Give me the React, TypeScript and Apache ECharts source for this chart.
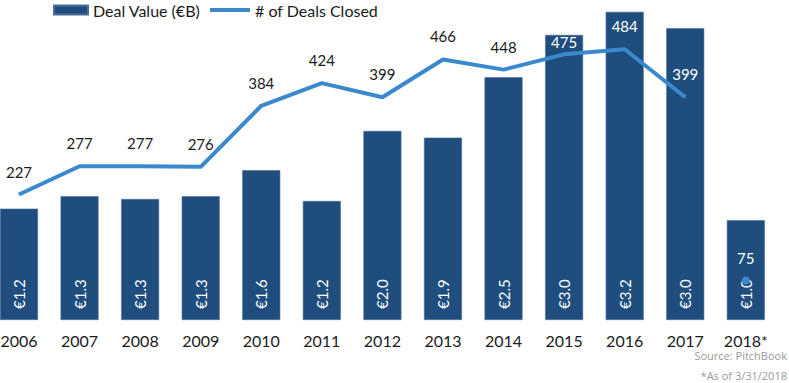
import React, { useEffect, useRef } from "react";
import * as echarts from "echarts";

const years = ["2006", "2007", "2008", "2009", "2010", "2011", "2012", "2013", "2014", "2015", "2016", "2017", "2018*"];
const dealValue = [1.16, 1.29, 1.26, 1.29, 1.56, 1.24, 1.97, 1.9, 2.53, 2.97, 3.21, 3.04, 1.04];
const dealsClosed = [227, 277, 277, 276, 384, 424, 399, 466, 448, 475, 484, 399, 75];

const BAR_COLOR = "#1F4E7E";
const LINE_COLOR = "#3A89CE";
const FONT = "Lato";

const BAR_MAX = 3.25;
const LINE_MIN = 5;
const LINE_MAX = 557;
const GRID_TOP = 8;
const GRID_BOTTOM = 63;
const GRID_H = 383 - GRID_TOP - GRID_BOTTOM;
const SHIFT = 12; // chart div is shifted left so the first bar touches the page edge
const LABEL_GAP = 15;
const LABEL_GAP_OVERRIDE: Record<number, number> = { 9: 4 };

export default function App() {
  const ref = useRef<HTMLDivElement>(null);
  useEffect(() => {
    if (!ref.current) return;
    const chart = echarts.init(ref.current, null, { renderer: "svg" });
    const last = years.length - 1;
    const gapOf = (i: number) => (LABEL_GAP_OVERRIDE[i] !== undefined ? LABEL_GAP_OVERRIDE[i] : LABEL_GAP);
    // label color: white when the label sits inside the bar
    const labelColor = (i: number) => {
      const barPx = (dealValue[i] / BAR_MAX) * GRID_H;
      const labelPx = ((dealsClosed[i] - LINE_MIN) / (LINE_MAX - LINE_MIN)) * GRID_H + gapOf(i) + 9;
      return barPx > labelPx ? "#ffffff" : "#1a1a1a";
    };
    const lineData = dealsClosed.map((v, i) =>
      i < last ? { value: v, label: { color: labelColor(i), distance: gapOf(i) } } : "-"
    );
    const dotData = dealsClosed.map((v, i) =>
      i === last ? { value: v, label: { color: labelColor(i) } } : "-"
    );
    chart.setOption({
      animation: false,
      legend: [
        {
          left: 48 + SHIFT,
          top: -3,
          itemWidth: 34,
          itemHeight: 9,
          data: [{ name: "Deal Value (€B)", icon: "rect" }],
          textStyle: { fontFamily: FONT, fontSize: 16, color: "#1a1a1a" },
        },
        {
          left: 205 + SHIFT,
          top: -3,
          itemWidth: 40,
          itemHeight: 4,
          data: [{ name: "# of Deals Closed", icon: "rect", itemStyle: { color: LINE_COLOR } }],
          textStyle: { fontFamily: FONT, fontSize: 16, color: "#1a1a1a" },
        },
      ],
      grid: { left: SHIFT - 11.3, right: 12.9, top: GRID_TOP, bottom: GRID_BOTTOM },
      xAxis: {
        type: "category",
        data: years,
        axisLine: { show: false },
        axisTick: { show: false },
        axisLabel: { fontFamily: FONT, fontSize: 16, color: "#1a1a1a", margin: 12 },
      },
      yAxis: [
        { type: "value", min: 0, max: BAR_MAX, show: false },
        { type: "value", min: LINE_MIN, max: LINE_MAX, show: false },
      ],
      series: [
        {
          name: "Deal Value (€B)",
          type: "bar",
          data: dealValue,
          barWidth: 38,
          itemStyle: { color: BAR_COLOR, borderColor: "#4a6f96", borderWidth: 0.6 },
          label: {
            show: true,
            position: "insideBottom",
            rotate: 90,
            align: "left",
            verticalAlign: "middle",
            distance: 11,
            color: "#ffffff",
            fontFamily: FONT,
            fontSize: 15,
            formatter: (p: any) => "€" + Number(p.value).toFixed(1),
          },
        },
        {
          name: "# of Deals Closed",
          type: "line",
          yAxisIndex: 1,
          data: lineData,
          symbol: "circle",
          symbolSize: 1,
          lineStyle: { color: LINE_COLOR, width: 4 },
          itemStyle: { color: LINE_COLOR },
          label: { show: true, position: "top", distance: LABEL_GAP, fontFamily: FONT, fontSize: 15 },
        },
        {
          name: "# of Deals Closed",
          type: "line",
          yAxisIndex: 1,
          data: dotData,
          symbol: "circle",
          symbolSize: 8,
          lineStyle: { color: LINE_COLOR, width: 4 },
          itemStyle: { color: LINE_COLOR },
          label: { show: true, position: "top", distance: 11, fontFamily: FONT, fontSize: 15 },
        },
      ],
      graphic: [
        {
          type: "text",
          right: 2,
          top: 350,
          style: { text: "Source: PitchBook", fill: "#9a9a9a", font: "11px 'Open Sans'", textAlign: "right" },
        },
        {
          type: "text",
          right: 2,
          top: 370,
          style: { text: "*As of 3/31/2018", fill: "#9a9a9a", font: "11px 'Open Sans'", textAlign: "right" },
        },
      ],
    });
    return () => chart.dispose();
  }, []);
  return (
    <div
      ref={ref}
      style={{ position: "absolute", left: -SHIFT, top: 0, width: 789 + SHIFT, height: 383 }}
    />
  );
}
